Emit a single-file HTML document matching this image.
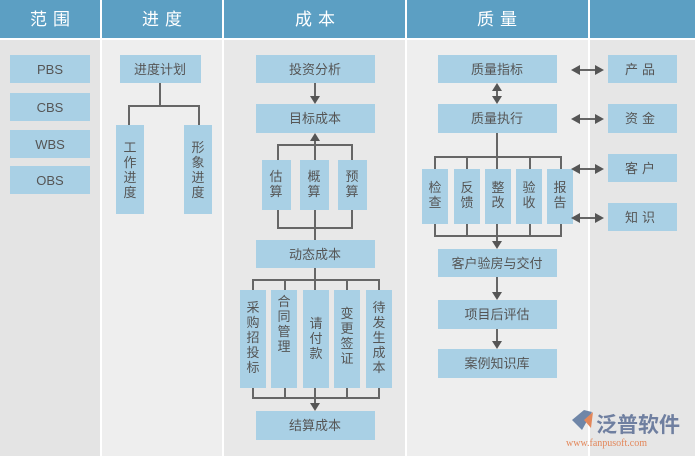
<!DOCTYPE html>
<html><head><meta charset="utf-8"><style>
html,body{margin:0;padding:0;background:#fff;}
svg{display:block;font-family:"Liberation Sans","Noto Sans CJK SC",sans-serif;}
.b{fill:#a9d0e5;}
.t{fill:#555;font-size:13px;text-anchor:middle;}
.h{fill:#fff;font-size:17px;text-anchor:middle;letter-spacing:6px;}
.l{stroke:#666;stroke-width:2;fill:none;}
.a{fill:#555;}
</style></head><body>
<svg width="695" height="456" viewBox="0 0 695 456" xmlns="http://www.w3.org/2000/svg">
<rect width="695" height="456" fill="#fff"/>
<rect x="0" y="40" width="100" height="416" fill="#e4e4e4"/>
<rect x="102" y="40" width="120" height="416" fill="#eeeeee"/>
<rect x="224" y="40" width="181" height="416" fill="#e8e8e8"/>
<rect x="407" y="40" width="181" height="416" fill="#eeeeee"/>
<rect x="590" y="40" width="105" height="416" fill="#e6e6e6"/>
<rect x="0" y="0" width="100" height="38" fill="#5c9fc3"/>
<rect x="102" y="0" width="120" height="38" fill="#5c9fc3"/>
<rect x="224" y="0" width="181" height="38" fill="#5c9fc3"/>
<rect x="407" y="0" width="181" height="38" fill="#5c9fc3"/>
<rect x="590" y="0" width="105" height="38" fill="#5c9fc3"/>
<text class="h" x="53" y="25">范围</text>
<text class="h" x="165" y="25">进度</text>
<text class="h" x="318" y="25">成本</text>
<text class="h" x="500" y="25">质量</text>

<!-- scope -->
<rect class="b" x="10" y="55" width="80" height="28"/><text class="t" x="50" y="74">PBS</text>
<rect class="b" x="10" y="93" width="80" height="28"/><text class="t" x="50" y="112">CBS</text>
<rect class="b" x="10" y="130" width="80" height="28"/><text class="t" x="50" y="149">WBS</text>
<rect class="b" x="10" y="166" width="80" height="28"/><text class="t" x="50" y="185">OBS</text>

<!-- progress -->
<rect class="b" x="120" y="55" width="81" height="28"/><text class="t" x="160" y="74">进度计划</text>
<path class="l" d="M160 83V106M129 125V106H199V125"/>
<rect class="b" x="116" y="125" width="28" height="89"/>
<text class="t" x="130" y="152"><tspan x="130">工</tspan><tspan x="130" dy="15">作</tspan><tspan x="130" dy="15">进</tspan><tspan x="130" dy="15">度</tspan></text>
<rect class="b" x="184" y="125" width="28" height="89"/>
<text class="t" x="198" y="152"><tspan x="198">形</tspan><tspan x="198" dy="15">象</tspan><tspan x="198" dy="15">进</tspan><tspan x="198" dy="15">度</tspan></text>

<!-- cost -->
<rect class="b" x="256" y="55" width="119" height="28"/><text class="t" x="315" y="74">投资分析</text>
<path class="l" d="M315 83V98"/><path class="a" d="M310 96H320L315 104Z"/>
<rect class="b" x="256" y="104" width="119" height="29"/><text class="t" x="315" y="123">目标成本</text>
<path class="l" d="M315 141V160M278 160V145H352V160M278 210V228H352V210M315 210V240"/><path class="a" d="M310 141H320L315 133Z"/>
<rect class="b" x="262" y="160" width="29" height="50"/><text class="t" x="276" y="181"><tspan x="276">估</tspan><tspan x="276" dy="15">算</tspan></text>
<rect class="b" x="300" y="160" width="29" height="50"/><text class="t" x="314" y="181"><tspan x="314">概</tspan><tspan x="314" dy="15">算</tspan></text>
<rect class="b" x="338" y="160" width="29" height="50"/><text class="t" x="352" y="181"><tspan x="352">预</tspan><tspan x="352" dy="15">算</tspan></text>
<rect class="b" x="256" y="240" width="119" height="28"/><text class="t" x="315" y="259">动态成本</text>
<path class="l" d="M315 268V290M253 290V280H379V290M253 388V398H379V388M285 388V398M347 388V398M285 290V280M347 290V280M315 388V404"/><path class="a" d="M310 403H320L315 411Z"/>
<rect class="b" x="240" y="290" width="26" height="98"/><text class="t" x="253" y="312"><tspan x="253">采</tspan><tspan x="253" dy="15">购</tspan><tspan x="253" dy="15">招</tspan><tspan x="253" dy="15">投</tspan><tspan x="253" dy="15">标</tspan></text>
<rect class="b" x="271" y="290" width="26" height="98"/><text class="t" x="284" y="306"><tspan x="284">合</tspan><tspan x="284" dy="15">同</tspan><tspan x="284" dy="15">管</tspan><tspan x="284" dy="15">理</tspan></text>
<rect class="b" x="303" y="290" width="26" height="98"/><text class="t" x="316" y="328"><tspan x="316">请</tspan><tspan x="316" dy="15">付</tspan><tspan x="316" dy="15">款</tspan></text>
<rect class="b" x="334" y="290" width="26" height="98"/><text class="t" x="347" y="318"><tspan x="347">变</tspan><tspan x="347" dy="15">更</tspan><tspan x="347" dy="15">签</tspan><tspan x="347" dy="15">证</tspan></text>
<rect class="b" x="366" y="290" width="26" height="98"/><text class="t" x="379" y="312"><tspan x="379">待</tspan><tspan x="379" dy="15">发</tspan><tspan x="379" dy="15">生</tspan><tspan x="379" dy="15">成</tspan><tspan x="379" dy="15">本</tspan></text>
<rect class="b" x="256" y="411" width="119" height="29"/><text class="t" x="315" y="430">结算成本</text>

<!-- quality -->
<rect class="b" x="438" y="55" width="119" height="28"/><text class="t" x="497" y="74">质量指标</text>
<path class="l" d="M497 89V98"/><path class="a" d="M492 91H502L497 83ZM492 96H502L497 104Z"/>
<rect class="b" x="438" y="104" width="119" height="29"/><text class="t" x="497" y="123">质量执行</text>
<path class="l" d="M497 133V169M435 169V157H561V169M467 157V169M530 157V169M435 224V236H561V224M467 224V236M530 224V236M497 224V241"/><path class="a" d="M492 241H502L497 249Z"/>
<rect class="b" x="422" y="169" width="26" height="55"/><text class="t" x="435" y="192"><tspan x="435">检</tspan><tspan x="435" dy="15">查</tspan></text>
<rect class="b" x="454" y="169" width="26" height="55"/><text class="t" x="467" y="192"><tspan x="467">反</tspan><tspan x="467" dy="15">馈</tspan></text>
<rect class="b" x="485" y="169" width="26" height="55"/><text class="t" x="498" y="192"><tspan x="498">整</tspan><tspan x="498" dy="15">改</tspan></text>
<rect class="b" x="516" y="169" width="26" height="55"/><text class="t" x="529" y="192"><tspan x="529">验</tspan><tspan x="529" dy="15">收</tspan></text>
<rect class="b" x="547" y="169" width="26" height="55"/><text class="t" x="560" y="192"><tspan x="560">报</tspan><tspan x="560" dy="15">告</tspan></text>
<rect class="b" x="438" y="249" width="119" height="28"/><text class="t" x="497" y="268">客户验房与交付</text>
<path class="l" d="M497 277V292"/><path class="a" d="M492 292H502L497 300Z"/>
<rect class="b" x="438" y="300" width="119" height="29"/><text class="t" x="497" y="319">项目后评估</text>
<path class="l" d="M497 329V341"/><path class="a" d="M492 341H502L497 349Z"/>
<rect class="b" x="438" y="349" width="119" height="29"/><text class="t" x="497" y="368">案例知识库</text>

<!-- right -->
<g>
<path class="l" d="M578 70H596M578 119H596M578 169H596M578 218H596"/>
<path class="a" d="M571 70L580 65V75ZM604 70L595 65V75Z M571 119L580 114V124ZM604 119L595 114V124Z M571 169L580 164V174ZM604 169L595 164V174Z M571 218L580 213V223ZM604 218L595 213V223Z"/>
</g>
<rect class="b" x="608" y="55" width="69" height="28"/><text class="t" x="642" y="74" style="letter-spacing:4px">产品</text>
<rect class="b" x="608" y="104" width="69" height="29"/><text class="t" x="642" y="123" style="letter-spacing:4px">资金</text>
<rect class="b" x="608" y="154" width="69" height="28"/><text class="t" x="642" y="173" style="letter-spacing:4px">客户</text>
<rect class="b" x="608" y="203" width="69" height="28"/><text class="t" x="642" y="222" style="letter-spacing:4px">知识</text>

<!-- logo -->
<path d="M572 420L584 410L592 412L582 430Z" fill="#6f86a8"/>
<path d="M584 420L593 412L591 428Z" fill="#e3875a"/>
<text x="596" y="432" fill="#6f7fa0" font-size="21" font-weight="bold">泛普软件</text>
<text x="566" y="446" fill="#e3875a" font-size="10" font-family="Liberation Serif,serif">www.fanpusoft.com</text>
</svg>
</body></html>
